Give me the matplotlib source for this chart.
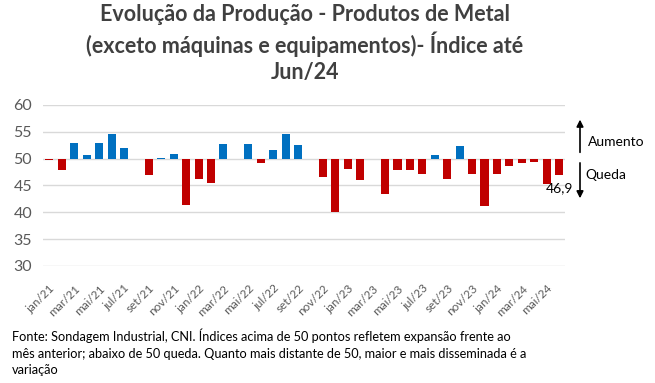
import matplotlib.pyplot as plt
import numpy as np

plt.rcParams['font.family'] = ['Lato', 'DejaVu Sans']

meses = ['jan', 'fev', 'mar', 'abr', 'mai', 'jun', 'jul', 'ago', 'set', 'out', 'nov', 'dez']
labels = [f'{m}/{a}' for a in (21, 22, 23, 24) for m in meses][:42]

indice = [49.7, 47.8, 52.9, 50.6, 52.9, 54.6, 51.9, 50.0, 46.9, 50.2, 50.8, 41.4,
          46.3, 45.4, 52.7, 50.0, 52.7, 49.1, 51.6, 54.6, 52.5, 50.0, 46.6, 40.1,
          48.0, 46.1, 50.0, 43.5, 47.8, 47.8, 47.2, 50.6, 46.3, 52.3, 47.2, 41.2,
          47.1, 48.6, 49.1, 49.3, 45.2, 46.9]

base = 50
x = np.arange(len(indice))
vals = np.array(indice)
cores = ['#0070C0' if v >= base else '#C00000' for v in vals]

fig = plt.figure(figsize=(6.55, 3.83), dpi=100)
ax = fig.add_axes([0.066, 0.3055, 0.797, 0.4204])

ax.bar(x, vals - base, bottom=base, width=0.65, color=cores, zorder=3)

ax.set_ylim(30, 60)
ax.set_xlim(-0.5, len(indice) - 0.5)
ax.set_yticks(range(30, 61, 5))
ax.yaxis.grid(True, color='#D9D9D9', linewidth=1, zorder=0)
for s in ax.spines.values():
    s.set_visible(False)
ax.tick_params(axis='both', length=0, colors='#595959')
ax.tick_params(axis='y', labelsize=11.5, pad=8)
ax.tick_params(axis='x', pad=12)
ax.set_xticks(x[::2])
ax.set_xticklabels(labels[::2], rotation=45, ha='right', rotation_mode='anchor',
                   fontsize=8.5, color='#595959')

ax.text(x[-1], vals[-1] - 1.3, '46,9', ha='center', va='top', fontsize=10)

fig.text(0.465, 0.99,
         'Evolução da Produção - Produtos de Metal\n(exceto máquinas e equipamentos)- Índice até\nJun/24',
         ha='center', va='top', fontsize=15.5, fontweight='bold', color='#404040',
         linespacing=1.3)

# setas e legendas à direita
fig.add_artist(plt.Annotation('', xy=(0.8855, 0.695), xytext=(0.8855, 0.595),
                              xycoords='figure fraction',
                              arrowprops=dict(arrowstyle='-|>', color='black', lw=1.2,
                                              mutation_scale=10)))
fig.add_artist(plt.Annotation('', xy=(0.8855, 0.475), xytext=(0.8855, 0.582),
                              xycoords='figure fraction',
                              arrowprops=dict(arrowstyle='-|>', color='black', lw=1.2,
                                              mutation_scale=10)))
fig.text(0.897, 0.628, 'Aumento', fontsize=10, va='center')
fig.text(0.893, 0.543, 'Queda', fontsize=10, va='center')

fig.text(0.018, 0.079,
         'Fonte: Sondagem Industrial, CNI. Índices acima de 50 pontos refletem expansão frente ao\n'
         'mês anterior; abaixo de 50 queda. Quanto mais distante de 50, maior e mais disseminada é a\n'
         'variação', fontsize=9.2, va='center', linespacing=1.45)

fig.savefig('out.png', dpi=100)
